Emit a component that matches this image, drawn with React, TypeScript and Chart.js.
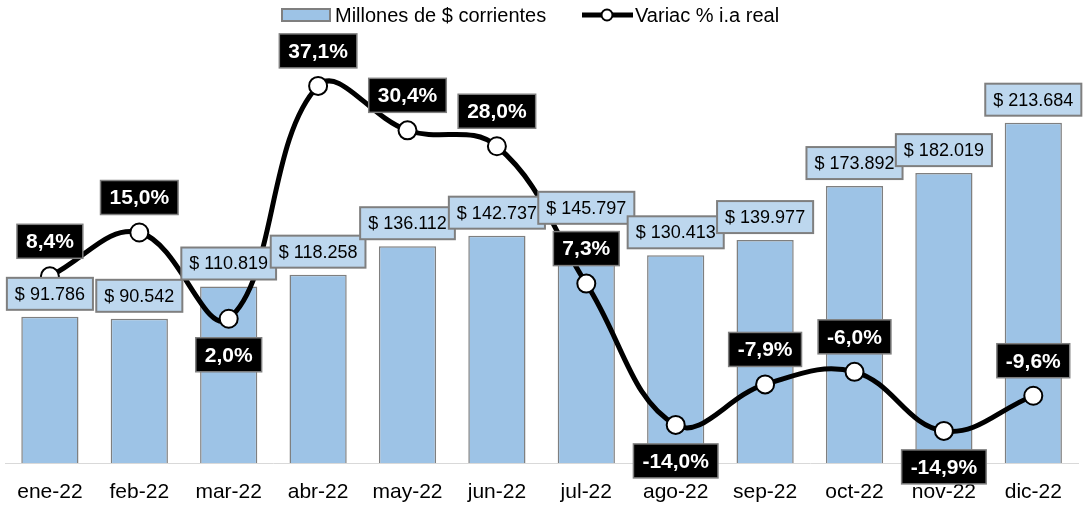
import React, { useEffect, useRef } from "react";
import { Chart, registerables } from "chart.js";

Chart.register(...registerables);

const categories = ["ene-22", "feb-22", "mar-22", "abr-22", "may-22", "jun-22", "jul-22", "ago-22", "sep-22", "oct-22", "nov-22", "dic-22"];
const millones = [91786, 90542, 110819, 118258, 136112, 142737, 145797, 130413, 139977, 173892, 182019, 213684];
const variacion = [8.4, 15.0, 2.0, 37.1, 30.4, 28.0, 7.3, -14.0, -7.9, -6.0, -14.9, -9.6];
const variacionLabelBelow = [false, false, true, false, false, false, false, true, false, false, true, false];

const barLegend = "Millones de $ corrientes";
const lineLegend = "Variac % i.a real";

const FONT = "'Liberation Sans', Arial, Helvetica, sans-serif";
const BAR_FILL = "#9DC3E6";
const BAR_BORDER = "#7f7f7f";
const LABEL_FILL = "#BDD7EE";

const fmtMillones = (v: number) => "$ " + String(v).replace(/\B(?=(\d{3})+(?!\d))/g, ".");
const fmtPct = (v: number) => v.toFixed(1).replace(".", ",") + "%";

const labelsPlugin = {
  id: "customLabels",
  afterDatasetsDraw(chart: any) {
    const ctx = chart.ctx as CanvasRenderingContext2D;
    ctx.save();
    ctx.textAlign = "center";
    ctx.textBaseline = "middle";
    // bar labels
    ctx.font = `18px ${FONT}`;
    const barMeta = chart.getDatasetMeta(0);
    barMeta.data.forEach((el: any, i: number) => {
      const text = fmtMillones(millones[i]);
      const w = ctx.measureText(text).width + 16;
      const h = 32;
      const cx = el.x;
      const cy = el.y - 23;
      ctx.fillStyle = LABEL_FILL;
      ctx.fillRect(cx - w / 2, cy - h / 2, w, h);
      ctx.strokeStyle = BAR_BORDER;
      ctx.lineWidth = 2;
      ctx.strokeRect(cx - w / 2, cy - h / 2, w, h);
      ctx.fillStyle = "#000";
      ctx.fillText(text, cx, cy + 1);
    });
    // line labels
    ctx.font = `bold 21px ${FONT}`;
    const lineMeta = chart.getDatasetMeta(1);
    lineMeta.data.forEach((el: any, i: number) => {
      const text = fmtPct(variacion[i]);
      const w = ctx.measureText(text).width + 18;
      const h = 34;
      const cx = el.x;
      const cy = el.y + (variacionLabelBelow[i] ? 36 : -35);
      ctx.fillStyle = "#000";
      ctx.fillRect(cx - w / 2, cy - h / 2, w, h);
      ctx.strokeStyle = "#7f7f7f";
      ctx.lineWidth = 1.5;
      ctx.strokeRect(cx - w / 2, cy - h / 2, w, h);
      ctx.fillStyle = "#fff";
      ctx.fillText(text, cx, cy + 1);
    });
    ctx.restore();
  },
};

const legendPlugin = {
  id: "customLegend",
  afterDraw(chart: any) {
    const ctx = chart.ctx as CanvasRenderingContext2D;
    ctx.save();
    const y = 15;
    ctx.fillStyle = BAR_FILL;
    ctx.fillRect(282, 9, 48, 12);
    ctx.strokeStyle = BAR_BORDER;
    ctx.lineWidth = 2;
    ctx.strokeRect(282, 9, 48, 12);
    ctx.font = `20px ${FONT}`;
    ctx.textAlign = "left";
    ctx.textBaseline = "middle";
    ctx.fillStyle = "#000";
    ctx.fillText(barLegend, 335, y + 1);
    ctx.strokeStyle = "#000";
    ctx.lineWidth = 5;
    ctx.beginPath();
    ctx.moveTo(582, y);
    ctx.lineTo(633, y);
    ctx.stroke();
    ctx.beginPath();
    ctx.arc(607, y, 5.5, 0, Math.PI * 2);
    ctx.fillStyle = "#fff";
    ctx.fill();
    ctx.lineWidth = 2;
    ctx.stroke();
    ctx.fillStyle = "#000";
    ctx.fillText(lineLegend, 635, y + 1);
    ctx.restore();
  },
};

export default function App() {
  const canvasRef = useRef<HTMLCanvasElement | null>(null);

  useEffect(() => {
    if (!canvasRef.current) return;
    const chart = new Chart(canvasRef.current, {
      data: {
        labels: categories,
        datasets: [
          {
            type: "bar",
            label: barLegend,
            data: millones,
            backgroundColor: BAR_FILL,
            borderColor: BAR_BORDER,
            borderWidth: 1.5,
            barPercentage: 0.64,
            categoryPercentage: 1,
            yAxisID: "y",
            order: 2,
          },
          {
            type: "line",
            label: lineLegend,
            data: variacion,
            borderColor: "#000",
            borderWidth: 5,
            tension: 0.4,
            pointRadius: 9,
            pointBorderWidth: 2,
            pointBackgroundColor: "#fff",
            pointBorderColor: "#000",
            yAxisID: "y2",
            order: 1,
          },
        ],
      } as any,
      options: {
        responsive: false,
        animation: false,
        layout: { autoPadding: false, padding: { left: 5, right: 5, top: 33, bottom: 0 } } as any,
        plugins: {
          legend: { display: false },
          tooltip: { enabled: false },
        },
        scales: {
          x: {
            grid: { display: false, drawTicks: false },
            border: { display: true, color: "#d9d9d9", width: 1 },
            ticks: { color: "#000", font: { size: 21, family: FONT }, padding: 17, maxRotation: 0, autoSkip: false },
            afterFit: (scale: any) => {
              scale.height = 43;
            },
          },
          y: { display: false, min: 0, max: 270000 },
          y2: { display: false, min: -19.74, max: 45.07 },
        },
      } as any,
      plugins: [labelsPlugin, legendPlugin],
    });
    return () => chart.destroy();
  }, []);

  return (
    <div style={{ position: "fixed", left: 0, top: 0, width: 1083, height: 506, background: "#fff" }}>
      <canvas ref={canvasRef} width={1083} height={506} style={{ display: "block" }} />
    </div>
  );
}
